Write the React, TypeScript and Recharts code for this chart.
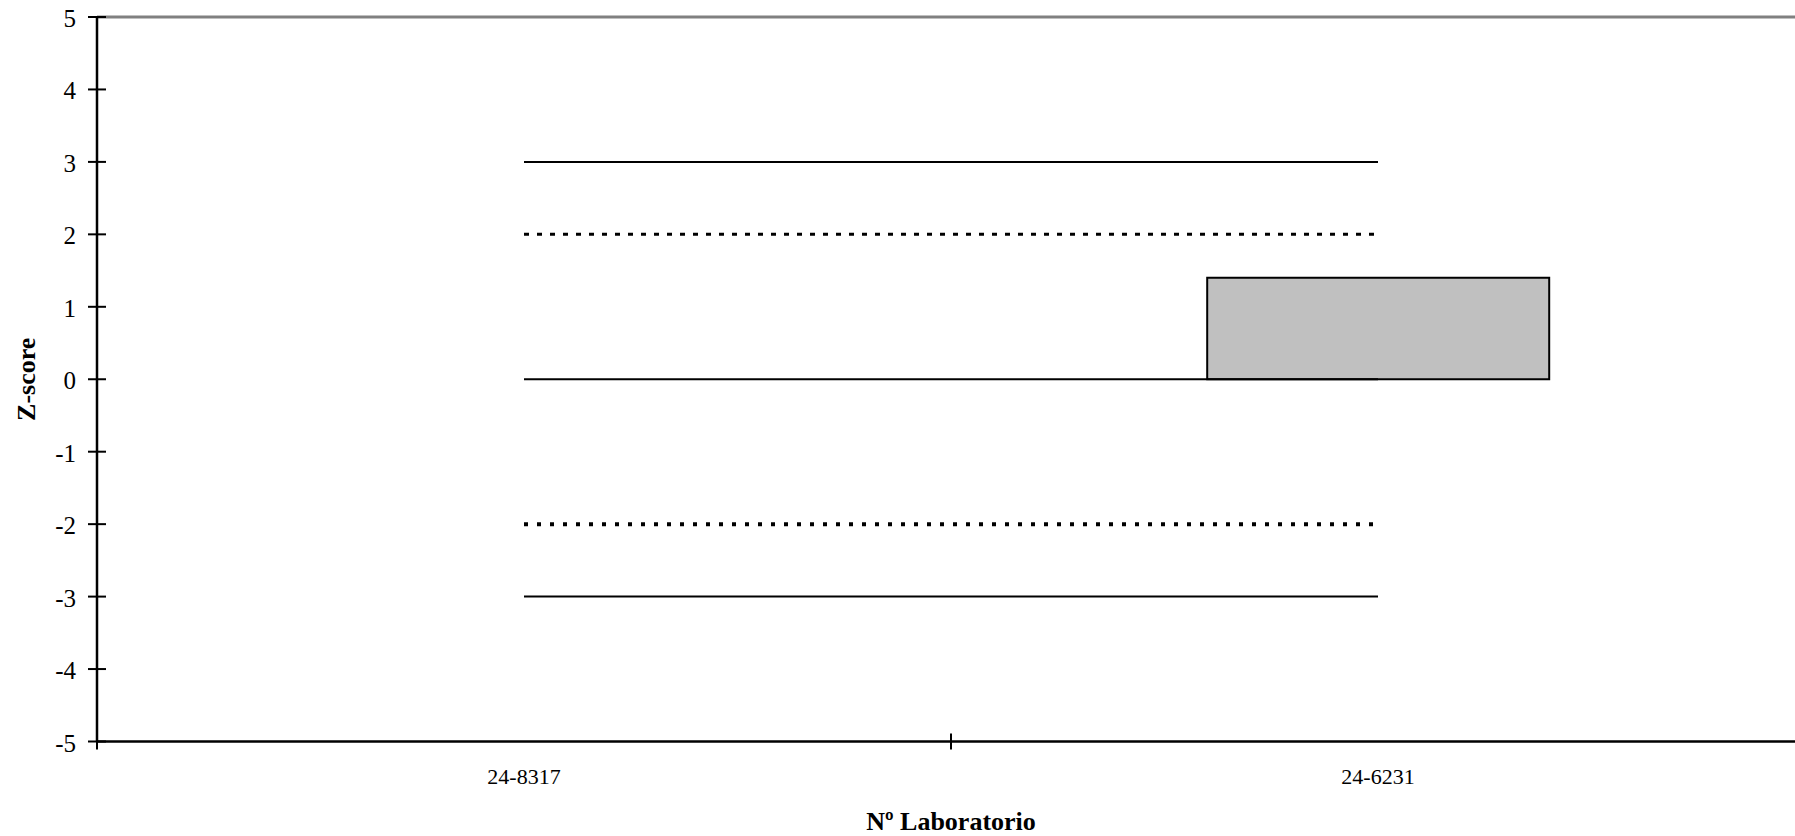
import React from 'react';
import { ComposedChart, Bar, Line, XAxis, YAxis, ReferenceLine } from 'recharts';

const categories = ['24-8317', '24-6231'];
const zScores: (number | null)[] = [null, 1.4];
const upperAction = [3, 3];
const upperWarning = [2, 2];
const centerLine = [0, 0];
const lowerWarning = [-2, -2];
const lowerAction = [-3, -3];
const yTicks = [-5, -4, -3, -2, -1, 0, 1, 2, 3, 4, 5];

const data = categories.map((lab, i) => ({
  lab,
  z: zScores[i],
  ua: upperAction[i],
  uw: upperWarning[i],
  c: centerLine[i],
  lw: lowerWarning[i],
  la: lowerAction[i],
}));

const FONT = '"Liberation Serif", "Times New Roman", serif';
const X_TICK_MARGIN = 42;

const YTick = (props: any) => {
  const { x, y, payload } = props;
  return (
    <g>
      <line x1={x + 12} x2={x + 30} y1={y} y2={y} stroke="#000" strokeWidth={2} />
      <text x={x} y={y + 10} textAnchor="end" fontFamily={FONT} fontSize={25} fill="#000">
        {payload.value}
      </text>
    </g>
  );
};

const XLabelTick = (props: any) => {
  const { x, y, payload } = props;
  const axisY = y - X_TICK_MARGIN;
  const bx = x - (payload.offset || 0);
  return (
    <g>
      <line x1={bx} x2={bx} y1={axisY - 8} y2={axisY + 8} stroke="#000" strokeWidth={2} />
      <text x={x} y={y} textAnchor="middle" fontFamily={FONT} fontSize={22} fill="#000">
        {payload.value}
      </text>
    </g>
  );
};

const XTitle = (props: any) => {
  const vb = props.viewBox || {};
  return (
    <text
      x={vb.x + vb.width / 2}
      y={vb.y + 88}
      textAnchor="middle"
      fontFamily={FONT}
      fontWeight="bold"
      fontSize={26}
      fill="#000"
    >
      Nº Laboratorio
    </text>
  );
};

const YTitle = (props: any) => {
  const vb = props.viewBox || {};
  const cx = vb.x + 35;
  const cy = vb.y + vb.height / 2;
  return (
    <text
      x={cx}
      y={cy}
      transform={`rotate(-90, ${cx}, ${cy})`}
      textAnchor="middle"
      fontFamily={FONT}
      fontWeight="bold"
      fontSize={26}
      fill="#000"
    >
      Z-score
    </text>
  );
};

export default function App() {
  return (
    <div
      style={{
        position: 'absolute',
        left: 0,
        top: 0,
        width: 1795,
        height: 836,
        overflow: 'hidden',
        background: '#fff',
      }}
    >
      <ComposedChart
        width={1805}
        height={836}
        data={data}
        margin={{ top: 17, right: 0, bottom: 0, left: 0 }}
        barCategoryGap="30%"
      >
        <XAxis
          dataKey="lab"
          height={94.5}
          axisLine={{ stroke: '#000', strokeWidth: 2.5 }}
          tickLine={false}
          tickSize={0}
          tickMargin={X_TICK_MARGIN}
          interval={0}
          tick={<XLabelTick />}
          label={XTitle}
        />
        <YAxis
          width={97}
          domain={[-5, 5]}
          ticks={yTicks}
          interval={0}
          axisLine={{ stroke: '#000', strokeWidth: 2.5 }}
          tickLine={false}
          tickSize={9}
          tickMargin={12}
          tick={<YTick />}
          label={YTitle}
        />
        <ReferenceLine y={5} stroke="#808080" strokeWidth={3} />
        <Line dataKey="ua" stroke="#000" strokeWidth={2} dot={false} activeDot={false} isAnimationActive={false} />
        <Line dataKey="uw" stroke="#000" strokeWidth={3} strokeDasharray="5 8" dot={false} activeDot={false} isAnimationActive={false} />
        <Line dataKey="c" stroke="#000" strokeWidth={2} dot={false} activeDot={false} isAnimationActive={false} />
        <Line dataKey="lw" stroke="#000" strokeWidth={4} strokeDasharray="4 9" dot={false} activeDot={false} isAnimationActive={false} />
        <Line dataKey="la" stroke="#000" strokeWidth={2} dot={false} activeDot={false} isAnimationActive={false} />
        <Bar dataKey="z" fill="#C0C0C0" stroke="#000" strokeWidth={2} isAnimationActive={false} />
      </ComposedChart>
    </div>
  );
}
